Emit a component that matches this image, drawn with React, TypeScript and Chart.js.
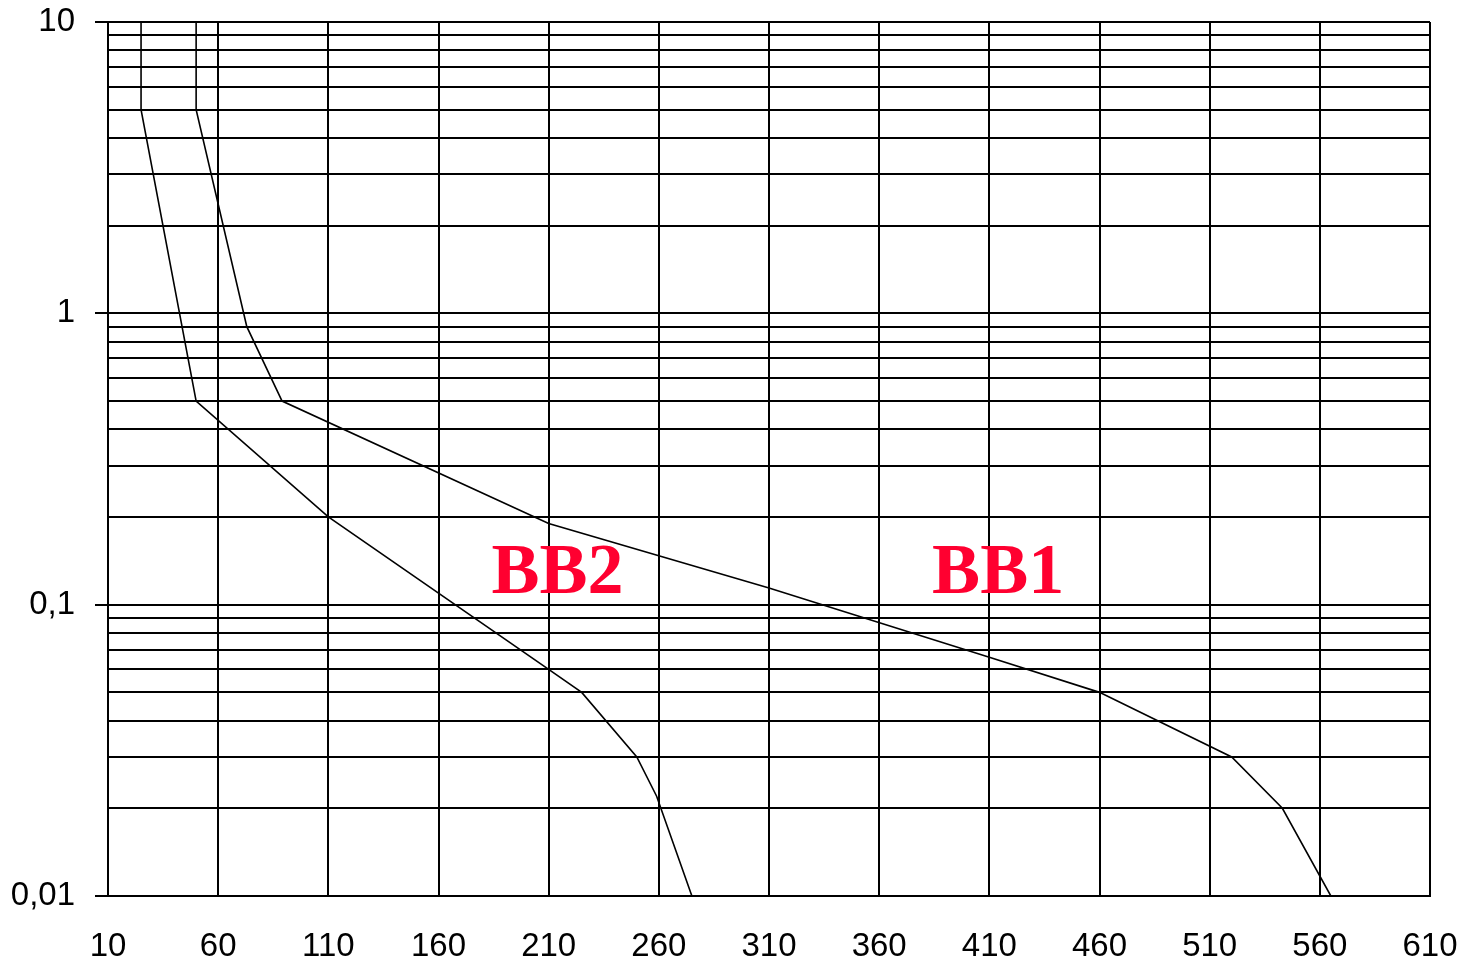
import React, { useEffect, useRef } from "react";
import { Chart, registerables } from "chart.js";

Chart.register(...registerables);

// X axis
const xMin = 10;
const xMax = 610;
const xStep = 50;

// Y axis (logarithmic)
const yMin = 0.01;
const yMax = 10;
const yGridValues = [
  0.01, 0.02, 0.03, 0.04, 0.05, 0.06, 0.07, 0.08, 0.09,
  0.1, 0.2, 0.3, 0.4, 0.5, 0.6, 0.7, 0.8, 0.9,
  1, 2, 3, 4, 5, 6, 7, 8, 9,
  10,
];
const yMajorValues = [0.01, 0.1, 1, 10];
const yMajorLabels = ["0,01", "0,1", "1", "10"];

// Curve BB1
const bb1X = [50, 50, 73, 89, 210, 310, 410, 460, 520, 543, 565];
const bb1Y = [10, 5, 0.9, 0.5, 0.19, 0.114, 0.066, 0.05, 0.03, 0.02, 0.01];

// Curve BB2
const bb2X = [25, 25, 50, 110, 210, 225, 250, 259, 275];
const bb2Y = [10, 5, 0.5, 0.2, 0.06, 0.05, 0.03, 0.022, 0.01];

// Curve names (anchored in data coordinates)
const curveNames = ["BB2", "BB1"];
const curveNameX = [214, 414];
const curveNameY = [0.1096, 0.1096];

const isClose = (a: number, b: number) => Math.abs(a - b) < 1e-9 * Math.max(1, Math.abs(b));
const majorIndex = (v: number) => yMajorValues.findIndex((m) => isClose(m, v));

const namePlugin = {
  id: "curveNames",
  afterDatasetsDraw(chart: any) {
    const { ctx, scales } = chart;
    ctx.save();
    ctx.fillStyle = "#ff0030";
    ctx.font = 'bold 72px "Liberation Serif", "Times New Roman", serif';
    ctx.textAlign = "center";
    ctx.textBaseline = "alphabetic";
    curveNames.forEach((name, i) => {
      const px = scales.x.getPixelForValue(curveNameX[i]);
      const py = scales.y.getPixelForValue(curveNameY[i]);
      ctx.fillText(name, px, py);
    });
    ctx.restore();
  },
};

export default function App() {
  const canvasRef = useRef<HTMLCanvasElement | null>(null);

  useEffect(() => {
    document.body.style.margin = "0";
    const canvas = canvasRef.current;
    if (!canvas) return;
    const tickFont = { family: '"Liberation Sans", Arial, sans-serif', size: 33 };
    const chart = new Chart(canvas, {
      type: "line",
      data: {
        datasets: [
          {
            label: "BB1",
            data: bb1X.map((x, i) => ({ x, y: bb1Y[i] })),
            borderColor: "#000",
            borderWidth: 1.6,
            pointRadius: 0,
            tension: 0,
            fill: false,
          },
          {
            label: "BB2",
            data: bb2X.map((x, i) => ({ x, y: bb2Y[i] })),
            borderColor: "#000",
            borderWidth: 1.6,
            pointRadius: 0,
            tension: 0,
            fill: false,
          },
        ],
      },
      options: {
        responsive: false,
        animation: false,
        events: [],
        layout: { padding: { left: 0, top: 22, right: 34, bottom: 0 } },
        plugins: {
          legend: { display: false },
          tooltip: { enabled: false },
          title: { display: false },
        },
        scales: {
          x: {
            type: "linear",
            min: xMin,
            max: xMax,
            ticks: {
              stepSize: xStep,
              color: "#000",
              font: tickFont,
              padding: 31,
              maxRotation: 0,
              autoSkip: false,
            },
            grid: {
              color: "#000",
              lineWidth: 2,
              drawTicks: false,
            },
            border: { display: true, color: "#000", width: 2 },
            afterFit: (scale: any) => {
              scale.height = 69;
              scale.paddingLeft = 0;
              scale.paddingRight = 0;
            },
          },
          y: {
            type: "logarithmic",
            min: yMin,
            max: yMax,
            afterBuildTicks: (scale: any) => {
              scale.ticks = yGridValues.map((v) => ({ value: v, major: majorIndex(v) >= 0 }));
            },
            ticks: {
              autoSkip: false,
              color: "#000",
              font: tickFont,
              padding: 20,
              callback: (value: any) => {
                const idx = majorIndex(Number(value));
                return idx >= 0 ? yMajorLabels[idx] : "";
              },
            },
            grid: {
              color: "#000",
              lineWidth: 2,
              tickLength: 13,
              tickColor: (ctx: any) =>
                ctx.tick && majorIndex(ctx.tick.value) >= 0 ? "#000" : "rgba(0,0,0,0)",
            },
            border: { display: true, color: "#000", width: 2 },
            afterFit: (scale: any) => {
              scale.width = 108;
              scale.paddingTop = 0;
              scale.paddingBottom = 0;
            },
          },
        },
      },
      plugins: [namePlugin],
    });
    return () => chart.destroy();
  }, []);

  return (
    <div style={{ position: "absolute", left: 0, top: 0, width: 1464, height: 965, background: "#fff" }}>
      <canvas ref={canvasRef} width={1464} height={965} />
    </div>
  );
}
